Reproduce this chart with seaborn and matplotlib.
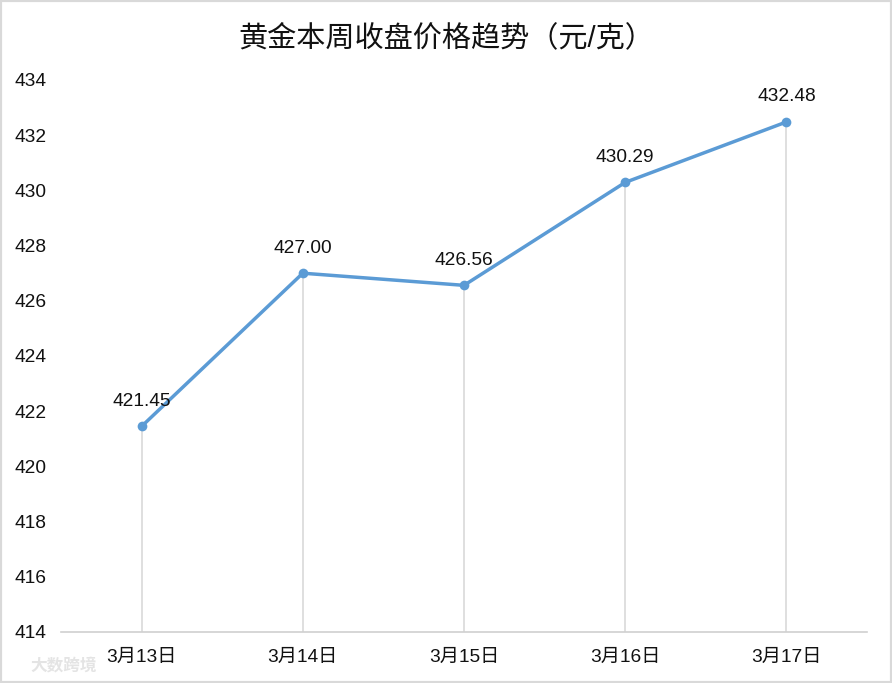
import matplotlib
matplotlib.use("Agg")
import matplotlib.pyplot as plt
import seaborn as sns
import pandas as pd
from matplotlib.patches import Rectangle

dates = ["3月13日", "3月14日", "3月15日", "3月16日", "3月17日"]
prices = [421.45, 427.00, 426.56, 430.29, 432.48]
yticks = [414, 416, 418, 420, 422, 424, 426, 428, 430, 432, 434]
title = "黄金本周收盘价格趋势（元/克）"

sns.set_theme(style="white")
plt.rcParams['font.family'] = ['Liberation Sans', 'Noto Sans CJK SC', 'DejaVu Sans']

df = pd.DataFrame({"date": dates, "price": prices})
df["x"] = range(len(dates))

fig = plt.figure(figsize=(8.92, 6.83), dpi=100)
ax = fig.add_axes([61/892, 51/683, 806/892, 552/683])

line_color = "#5B9BD5"
# drop lines
ax.vlines(df["x"], yticks[0], df["price"], color="#d9d9d9", lw=1.2, zorder=1)
sns.lineplot(data=df, x="x", y="price", ax=ax, color=line_color, lw=2.5,
             marker="o", markersize=7, markeredgewidth=0, zorder=3)

for xi, p in zip(df["x"], df["price"]):
    ax.annotate(f"{p:.2f}", (xi, p), xytext=(0, 12), textcoords="offset points",
                ha="center", va="bottom", fontsize=13.8, color="#111111")

ax.set_xlim(-0.5, len(dates) - 0.5)
ax.set_ylim(yticks[0], yticks[-1])
ax.set_yticks(yticks)
ax.set_yticklabels([str(t) for t in yticks], fontsize=13.8, color="#111111")
ax.set_xticks(df["x"])
ax.set_xticklabels(dates, fontsize=13.8, color="#111111")
ax.tick_params(axis="y", length=0, pad=10.5)
ax.tick_params(axis="x", length=0, pad=12)
ax.set_xlabel("")
ax.set_ylabel("")
for s in ["top", "right", "left"]:
    ax.spines[s].set_visible(False)
ax.spines["bottom"].set_color("#d0d0d0")
ax.spines["bottom"].set_linewidth(1.2)
ax.grid(False)

fig.text(0.5, 1 - 38/683, title, ha="center", va="center", fontsize=21, color="#111111")

# watermark
fig.text(30/892, 1 - 665/683, "大数跨境", ha="left", va="center", fontsize=12,
         color="#e4e4e4", fontweight="bold")

# figure border
fig.patches.append(Rectangle((0, 0), 1, 1, transform=fig.transFigure, fill=False,
                             edgecolor="#d9d9d9", lw=3, zorder=10))

fig.savefig("out.png", dpi=100)
